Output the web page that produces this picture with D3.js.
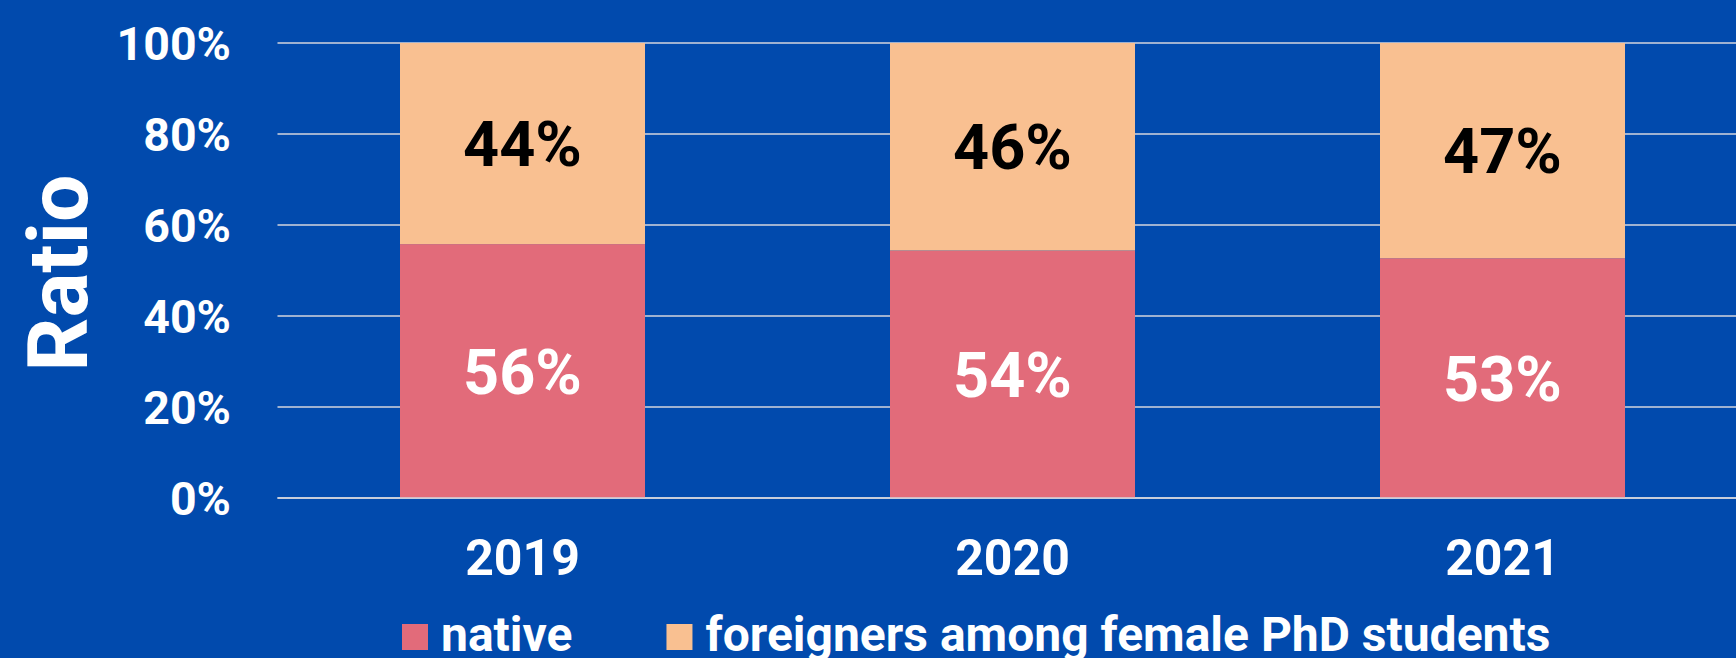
<!DOCTYPE html>
<html>
<head>
<meta charset="utf-8">
<script src="https://cdn.jsdelivr.net/npm/d3@7"></script>
<style>
  html, body { margin: 0; padding: 0; background: #014aad; }
  svg { display: block; font-family: Roboto, "Noto Sans", sans-serif; font-weight: bold; }
</style>
</head>
<body>
<div class="svg-container"></div>
<script>
// data
var years = ["2019", "2020", "2021"];
var native = [55.8, 54.4, 52.7];
var foreign = [44.2, 45.6, 47.3];
var seriesNames = ["native", "foreigners among female PhD students"];
var seriesColors = ["#e26b7a", "#f9c091"];
var labelColors = ["#ffffff", "#000000"];
var yTicks = [0, 20, 40, 60, 80, 100];

var width = 1736, height = 658;

var svg = d3.select(".svg-container").append("svg")
    .attr("width", width)
    .attr("height", height);

svg.append("rect")
    .attr("width", width)
    .attr("height", height)
    .attr("fill", "#014aad");

var x = d3.scaleBand()
    .domain(years)
    .range([277.5, 1747.5])
    .paddingInner(0.5)
    .paddingOuter(0.25);

var y = d3.scaleLinear()
    .domain([0, 100])
    .range([498, 43]);

// grid lines
svg.append("g").selectAll("line").data(yTicks)
    .enter().append("line")
    .attr("x1", 277.5)
    .attr("x2", width)
    .attr("y1", function(d){ return y(d); })
    .attr("y2", function(d){ return y(d); })
    .attr("stroke", "#d4d6de")
    .attr("stroke-width", 1.5);

// y tick labels
svg.append("g").selectAll("text").data(yTicks)
    .enter().append("text")
    .attr("x", 231)
    .attr("y", function(d){ return y(d); })
    .attr("dy", "0.36em")
    .attr("text-anchor", "end")
    .attr("fill", "white")
    .attr("font-size", "46.5px")
    .text(function(d){ return d + "%"; });

// stacked bars
var rows = years.map(function(yr, i){
    return { year: yr, native: native[i], foreign: foreign[i] };
});
var stack = d3.stack().keys(["native", "foreign"])(rows);

var layers = svg.append("g").selectAll("g").data(stack)
    .enter().append("g")
    .attr("fill", function(d, i){ return seriesColors[i]; });

layers.selectAll("rect").data(function(d){ return d; })
    .enter().append("rect")
    .attr("x", function(d){ return x(d.data.year); })
    .attr("width", x.bandwidth())
    .attr("y", function(d){ return y(Math.min(d[1], 100)); })
    .attr("height", function(d){ return y(d[0]) - y(Math.min(d[1], 100)); });

// value labels
stack.forEach(function(layer, li){
    svg.append("g").selectAll("text").data(layer)
        .enter().append("text")
        .attr("x", function(d){ return x(d.data.year) + x.bandwidth() / 2; })
        .attr("y", function(d){ return (y(d[0]) + y(Math.min(d[1], 100))) / 2; })
        .attr("dy", "0.36em")
        .attr("text-anchor", "middle")
        .attr("fill", labelColors[li])
        .attr("font-size", "63px")
        .text(function(d){ return Math.round(d[1] - d[0]) + "%"; });
});

// baseline on top
svg.append("line")
    .attr("x1", 277.5).attr("x2", width)
    .attr("y1", y(0)).attr("y2", y(0))
    .attr("stroke", "#d4d6de")
    .attr("stroke-width", 1.5);

// x labels
svg.append("g").selectAll("text").data(years)
    .enter().append("text")
    .attr("x", function(d){ return x(d) + x.bandwidth() / 2; })
    .attr("y", 575)
    .attr("text-anchor", "middle")
    .attr("fill", "white")
    .attr("font-size", "50px")
    .text(function(d){ return d; });

// y title
svg.append("text")
    .attr("transform", "translate(87,273) rotate(-90)")
    .attr("text-anchor", "middle")
    .attr("fill", "white")
    .attr("font-size", "84px")
    .text("Ratio");

// legend
var lx = 402;
seriesNames.forEach(function(name, i){
    svg.append("rect")
        .attr("x", lx).attr("y", 624)
        .attr("width", 26).attr("height", 26)
        .attr("fill", seriesColors[i]);
    var t = svg.append("text")
        .attr("x", lx + 39).attr("y", 651)
        .attr("fill", "white")
        .attr("font-size", "48px")
        .text(name);
    lx = lx + 39 + t.node().getComputedTextLength() + 94;
});
</script>
</body>
</html>
